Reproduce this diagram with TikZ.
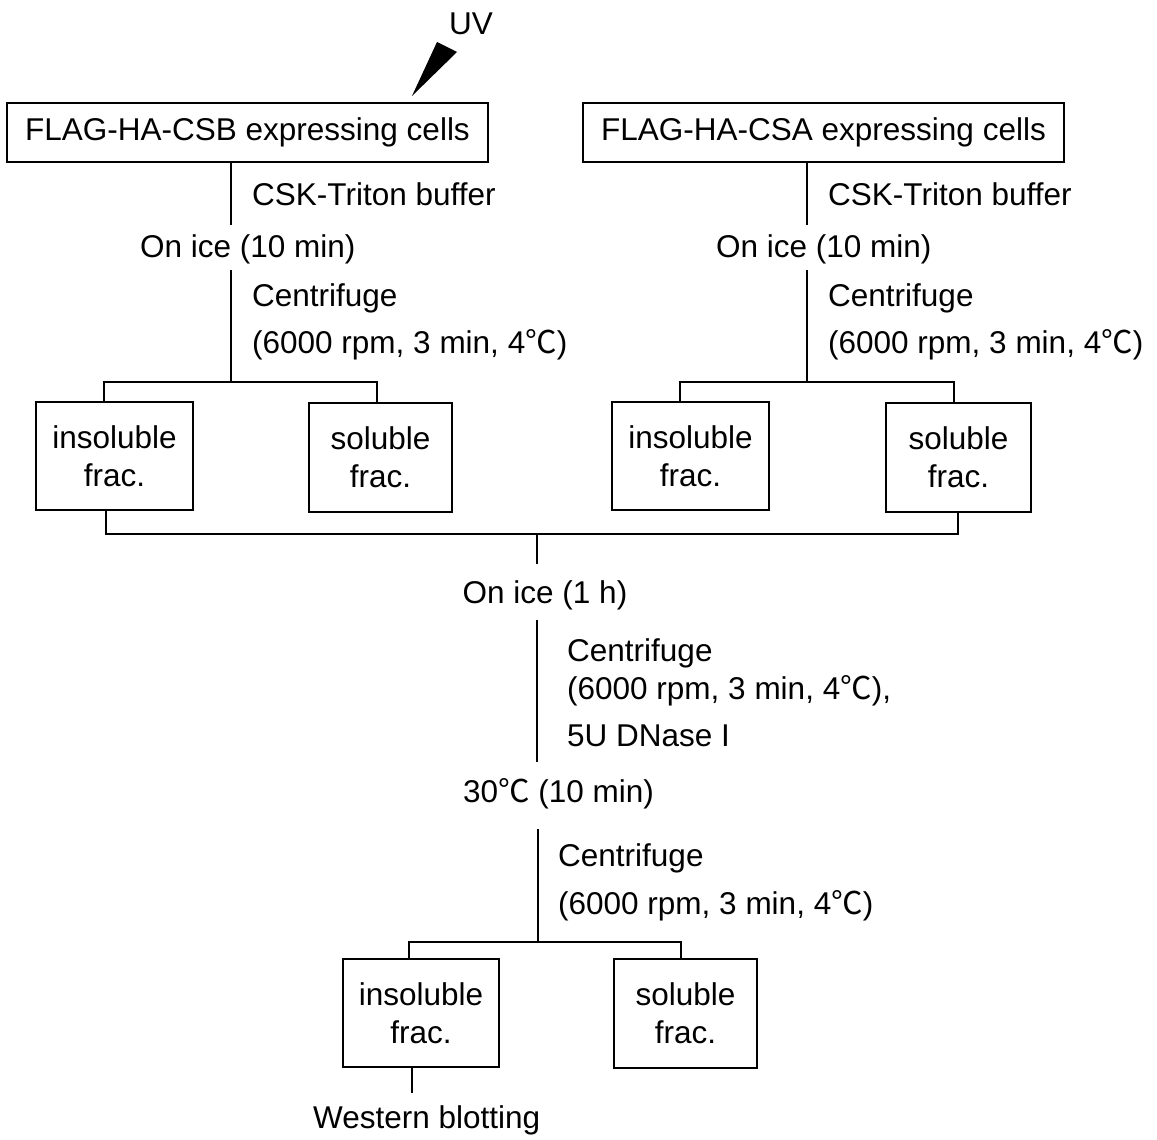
\documentclass[tikz,border=0pt]{standalone}
\usepackage{fontspec}
\setmainfont{Liberation Sans}
\newfontfamily\cjkfont{Noto Sans CJK JP}
\newcommand{\degC}{{\cjkfont ℃}}
\begin{document}
\begin{tikzpicture}[x=1pt,y=-1pt,
  lbl/.style={font=\fontsize{31.5}{38}\selectfont, inner sep=0pt},
  box/.style={draw, line width=1.4pt, font=\fontsize{31.5}{38}\selectfont, inner sep=0pt, align=center},
  wire/.style={line width=1.4pt}]
\useasboundingbox (0,0) rectangle (1157,1140);

% top
\node[lbl, anchor=base west] (uv) at (449,35) {UV};
\node[box, minimum width=481pt, minimum height=59pt] (cellsB) at (247.5,132.5) {FLAG-HA-CSB expressing cells};
\node[box, minimum width=481pt, minimum height=59pt] (cellsA) at (823.5,132.5) {FLAG-HA-CSA expressing cells};
\fill (412,96) -- (437,42) -- (457,52) -- cycle;

% left column
\node[lbl, anchor=base west] (cskB) at (252,205) {CSK-Triton buffer};
\node[lbl, anchor=base west] (iceB) at (140,257) {On ice (10 min)};
\node[lbl, anchor=base west] (cenB) at (252,306) {Centrifuge};
\node[lbl, anchor=base west] (condB) at (252,353) {(6000 rpm, 3 min, 4\degC)};
\node[box, minimum width=157pt, minimum height=108pt] (insB) at (114.5,456) {insoluble\\frac.};
\node[box, minimum width=143pt, minimum height=109pt] (solB) at (380.5,457.5) {soluble\\frac.};
\coordinate (aB) at (231,225);
\coordinate (bB) at (231,270);
\coordinate (brB) at (231,382);
\coordinate (brBl) at (104,382);
\coordinate (brBr) at (377,382);
\draw[wire] (cellsB.south -| aB) -- (aB);
\draw[wire] (bB) -- (brB);
\draw[wire] (insB.north -| brBl) -- (brBl) -- (brBr) -- (solB.north -| brBr);

% right column
\node[lbl, anchor=base west] (cskA) at (828,205) {CSK-Triton buffer};
\node[lbl, anchor=base west] (iceA) at (716,257) {On ice (10 min)};
\node[lbl, anchor=base west] (cenA) at (828,306) {Centrifuge};
\node[lbl, anchor=base west] (condA) at (828,353) {(6000 rpm, 3 min, 4\degC)};
\node[box, minimum width=157pt, minimum height=108pt] (insA) at (690.5,456) {insoluble\\frac.};
\node[box, minimum width=145pt, minimum height=109pt] (solA) at (958.5,457.5) {soluble\\frac.};
\coordinate (aA) at (807,225);
\coordinate (bA) at (807,270);
\coordinate (brA) at (807,382);
\coordinate (brAl) at (680,382);
\coordinate (brAr) at (954,382);
\draw[wire] (cellsA.south -| aA) -- (aA);
\draw[wire] (bA) -- (brA);
\draw[wire] (insA.north -| brAl) -- (brAl) -- (brAr) -- (solA.north -| brAr);

% join
\coordinate (jL) at (106,534);
\coordinate (jR) at (958,534);
\coordinate (jC) at (537,534);
\coordinate (jCe) at (537,564);
\draw[wire] (insB.south -| jL) -- (jL) -- (jR) -- (solA.south -| jR);
\draw[wire] (jC) -- (jCe);

% lower part
\node[lbl, anchor=base] (ice2) at (545,603) {On ice (1 h)};
\coordinate (c2a) at (537,620);
\coordinate (c2b) at (537,762);
\draw[wire] (c2a) -- (c2b);
\node[lbl, anchor=base west] (cen2) at (567,661) {Centrifuge};
\node[lbl, anchor=base west] (cond2) at (567,699) {(6000 rpm, 3 min, 4\degC),};
\node[lbl, anchor=base west] (dnase) at (567,746) {5U DNase I};
\node[lbl, anchor=base west] (t30) at (463,802) {30\degC\ (10 min)};
\coordinate (c3a) at (538,829);
\coordinate (c3b) at (538,942);
\draw[wire] (c3a) -- (c3b);
\node[lbl, anchor=base west] (cen3) at (558,866) {Centrifuge};
\node[lbl, anchor=base west] (cond3) at (558,914) {(6000 rpm, 3 min, 4\degC)};
\node[box, minimum width=156pt, minimum height=108pt] (ins3) at (421,1013) {insoluble\\frac.};
\node[box, minimum width=143pt, minimum height=109pt] (sol3) at (685.5,1013.5) {soluble\\frac.};
\coordinate (br3l) at (409,942);
\coordinate (br3r) at (681,942);
\draw[wire] (ins3.north -| br3l) -- (br3l) -- (br3r) -- (sol3.north -| br3r);
\coordinate (wbt) at (412,1093);
\draw[wire] (ins3.south -| wbt) -- (wbt);
\node[lbl, anchor=base west] (wb) at (313,1128) {Western blotting};
\end{tikzpicture}
\end{document}
